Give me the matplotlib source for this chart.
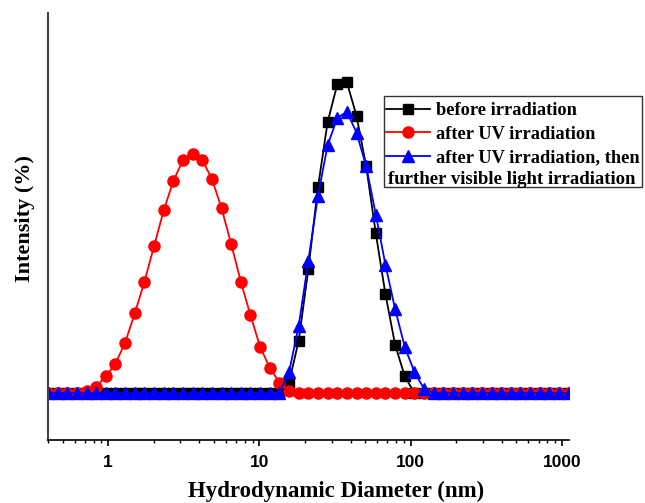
import matplotlib.pyplot as plt
from matplotlib.patches import Rectangle
from matplotlib.ticker import LogLocator, NullFormatter, FixedLocator, FixedFormatter

# DLS size bins (nm)
sizes = [0.4000, 0.4632, 0.5365, 0.6213, 0.7195, 0.8332, 0.9649, 1.117, 1.294,
         1.499, 1.736, 2.010, 2.328, 2.696, 3.122, 3.615, 4.187, 4.849, 5.615,
         6.503, 7.531, 8.721, 10.10, 11.70, 13.54, 15.69, 18.17, 21.04, 24.36,
         28.21, 32.67, 37.84, 43.82, 50.75, 58.77, 68.06, 78.82, 91.28, 105.7,
         122.4, 141.8, 164.2, 190.1, 220.2, 255.0, 295.3, 342.0, 396.1, 458.7,
         531.2, 615.1, 712.4, 825.0, 955.4, 1106]

# intensity (%) per bin
before = [0] * 25 + [0.5, 2.5, 5.9, 9.8, 12.9, 14.7, 14.8, 13.2, 10.8, 7.6,
                     4.7, 2.3, 0.8] + [0] * 17
after_uv = [0] * 4 + [0.1, 0.3, 0.8, 1.4, 2.4, 3.8, 5.3, 7.0, 8.7, 10.1, 11.1,
                      11.4, 11.1, 10.2, 8.8, 7.1, 5.3, 3.7, 2.2, 1.2, 0.5,
                      0.1] + [0] * 29
after_vis = [0] * 25 + [1.0, 3.2, 6.3, 9.4, 11.8, 13.1, 13.4, 12.4, 10.8, 8.5,
                        6.1, 4.0, 2.2, 1.0, 0.2] + [0] * 15

labels = ['before irradiation', 'after UV irradiation',
          'after UV irradiation, then']
extra_line = 'further visible light irradiation'

serif = 'Liberation Serif'
sans = 'Liberation Sans'
W, H = 645, 503

fig = plt.figure(figsize=(6.45, 5.03), dpi=100)
ax = fig.add_axes([0.0744, 0.1252, 0.8076, 0.8488])

l1, = ax.plot(sizes, before, color='black', marker='s', ms=7, lw=1.3)
l2, = ax.plot(sizes, after_uv, color='#ff0000', marker='o', ms=8, lw=1.3)
l3, = ax.plot(sizes, after_vis, color='#0000ff', marker='^', ms=8.5, lw=1.3)

ax.set_xscale('log')
ax.set_xlim(0.4, 1110)
ax.set_ylim(-2.24, 18.1)

ax.spines['top'].set_visible(False)
ax.spines['right'].set_visible(False)
ax.spines['left'].set_color('#444444')
ax.spines['left'].set_linewidth(1.5)
ax.spines['bottom'].set_linewidth(1.2)
ax.set_yticks([])

ax.xaxis.set_major_locator(FixedLocator([1, 10, 100, 1000]))
ax.xaxis.set_major_formatter(FixedFormatter(['1', '10', '100', '1000']))
ax.xaxis.set_minor_locator(LogLocator(base=10, subs=range(2, 10), numticks=20))
ax.xaxis.set_minor_formatter(NullFormatter())
ax.tick_params(axis='x', which='major', direction='out', length=4.5, width=1.2, pad=6)
ax.tick_params(axis='x', which='minor', direction='out', length=2.5, width=1)
for t in ax.get_xticklabels():
    t.set_fontfamily(sans)
    t.set_fontweight('bold')
    t.set_fontsize(12.5)

ax.set_xlabel('Hydrodynamic Diameter (nm)', fontfamily=serif, fontweight='bold',
              fontsize=16.5, labelpad=8)
ax.xaxis.label.set_x((336 - 48) / 521)
ax.set_ylabel('Intensity (%)', fontfamily=serif, fontweight='bold',
              fontsize=16, labelpad=9)
ax.yaxis.label.set_y(0.52)

leg = ax.legend([l1, l2, l3], labels, loc='upper left',
                bbox_to_anchor=(386 / W, 1 - 102 / H),
                bbox_transform=fig.transFigure, frameon=False,
                prop={'family': serif, 'weight': 'bold', 'size': 13.2},
                handlelength=2.4, handletextpad=0.35, labelspacing=0.36,
                borderpad=0.0, borderaxespad=0)

fig.text(388 / W, 1 - 180 / H, extra_line, fontfamily=serif,
         fontweight='bold', fontsize=13.5, va='center', ha='left')
fig.patches.append(Rectangle((384 / W, 1 - 187 / H), 258 / W, 91 / H,
                             transform=fig.transFigure, fill=False,
                             edgecolor='#333333', lw=1.0))

fig.savefig('out.png', dpi=100)
